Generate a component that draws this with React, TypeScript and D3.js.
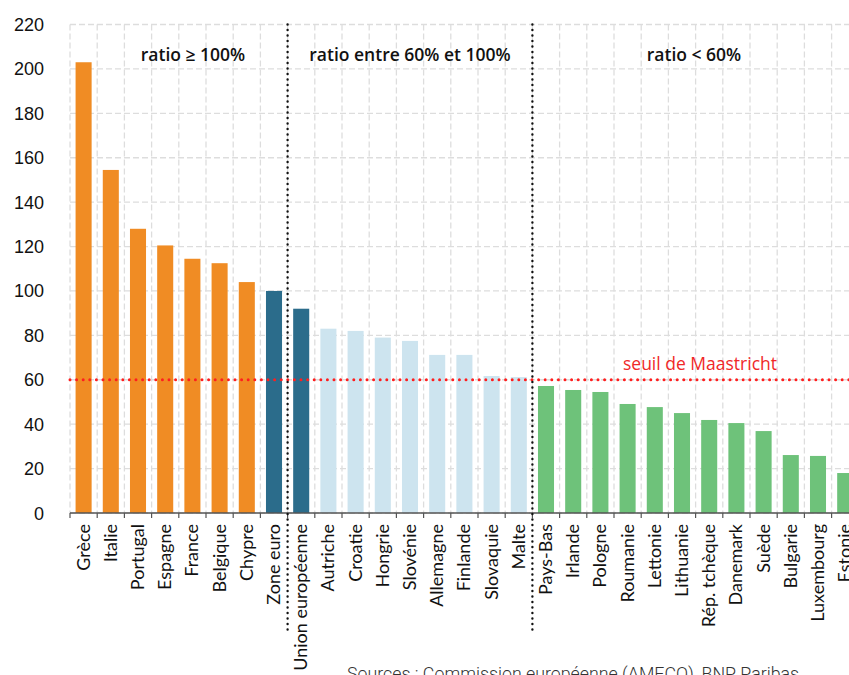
import React from "react";
import * as d3 from "d3";

const categories = [
  "Grèce", "Italie", "Portugal", "Espagne", "France", "Belgique", "Chypre",
  "Zone euro", "Union européenne",
  "Autriche", "Croatie", "Hongrie", "Slovénie", "Allemagne", "Finlande", "Slovaquie", "Malte",
  "Pays-Bas", "Irlande", "Pologne", "Roumanie", "Lettonie", "Lithuanie", "Rép. tchèque",
  "Danemark", "Suède", "Bulgarie", "Luxembourg", "Estonie",
];
const values = [
  203, 154.5, 128, 120.5, 114.5, 112.5, 104,
  100, 92,
  83, 82, 79, 77.5, 71.2, 71.2, 61.7, 61.2,
  57.2, 55.4, 54.5, 49.1, 47.7, 45, 41.9, 40.5, 36.9, 26.1, 25.7, 18,
];
const groups = [
  "high", "high", "high", "high", "high", "high", "high",
  "agg", "agg",
  "mid", "mid", "mid", "mid", "mid", "mid", "mid", "mid",
  "low", "low", "low", "low", "low", "low", "low", "low", "low", "low", "low", "low",
];
const groupColors: Record<string, string> = {
  high: "#F08C24",
  agg: "#2B6C8B",
  mid: "#CDE4EF",
  low: "#6EC27A",
};
const yTicks = [0, 20, 40, 60, 80, 100, 120, 140, 160, 180, 200, 220];
const sectionLabels = ["ratio ≥ 100%", "ratio entre 60% et 100%", "ratio < 60%"];
const sectionCenters = [193, 410, 694];
const separators = ["Union européenne", "Pays-Bas"];
const threshold = 60;
const thresholdLabel = "seuil de Maastricht";
const sourceText = "Sources : Commission européenne (AMECO), BNP Paribas";

export default function App() {
  const W = 849, H = 675;
  const left = 70, bandW = 27.2;
  const right = left + categories.length * bandW;
  const top = 24.5, bottom = 513;
  const x = d3.scaleBand<string>().domain(categories).range([left, right]).padding(0);
  const y = d3.scaleLinear().domain([0, 220]).range([bottom, top]);
  const bw = x.bandwidth();
  const barW = bw * 0.59;

  const boundaries = d3.range(categories.length + 1).map((i) => left + i * bw);

  return (
    <svg width={W} height={H} style={{ position: "absolute", left: 0, top: 0, background: "#fff" }}>
      <rect width={W} height={H} fill="#fff" />
      {yTicks.map((t) => (
        <line key={"h" + t} x1={left} x2={W} y1={y(t)} y2={y(t)} stroke="#DDDDDD" strokeWidth={1.3} strokeDasharray="6 3" />
      ))}
      {boundaries.map((b, i) => (
        <line key={"v" + i} x1={b} x2={b} y1={top} y2={bottom} stroke="#DDDDDD" strokeWidth={1.3} strokeDasharray="6 3" />
      ))}
      {categories.map((c, i) => (
        <rect key={c} x={(x(c) as number) + (bw - barW) / 2} width={barW} y={y(values[i])} height={bottom - y(values[i])} fill={groupColors[groups[i]]} />
      ))}
      <line x1={left} x2={W} y1={y(threshold)} y2={y(threshold)} stroke="#FF1E1E" strokeWidth={3} strokeLinecap="round" strokeDasharray="0 6.6" />
      <text x={700} y={370} textAnchor="middle" fill="#F02828" fontFamily="'Open Sans', sans-serif" fontSize={17.5}>{thresholdLabel}</text>
      <line x1={left} x2={W} y1={bottom} y2={bottom} stroke="#555" strokeWidth={1.5} />
      {boundaries.map((b, i) => (
        <line key={"t" + i} x1={b} x2={b} y1={bottom} y2={bottom + 5} stroke="#555" strokeWidth={1.2} />
      ))}
      {separators.map((s) => (
        <line key={s} x1={x(s) as number} x2={x(s) as number} y1={top} y2={633} stroke="#111" strokeWidth={2.4} strokeLinecap="round" strokeDasharray="0 5.5" />
      ))}
      {yTicks.map((t) => (
        <text key={"yl" + t} x={44} y={y(t) + 6.5} textAnchor="end" fontFamily="'Liberation Sans', Arial, sans-serif" fontSize={18} fill="#111">{t}</text>
      ))}
      {categories.map((c) => {
        const cx = (x(c) as number) + bw / 2;
        return (
          <text key={"c" + c} transform={`translate(${cx + 6},${bottom + 11}) rotate(-90)`} textAnchor="end" fontFamily="Lato, sans-serif" fontSize={18} fill="#111">{c}</text>
        );
      })}
      {sectionLabels.map((s, i) => (
        <text key={s} x={sectionCenters[i]} y={61} textAnchor="middle" fontFamily="'Open Sans', sans-serif" fontWeight={600} fontSize={17.5} fill="#111">{s}</text>
      ))}
      <text x={347} y={680} fontFamily="'Roboto', sans-serif" fontWeight={300} fontSize={17.8} fill="#333">{sourceText}</text>
    </svg>
  );
}
